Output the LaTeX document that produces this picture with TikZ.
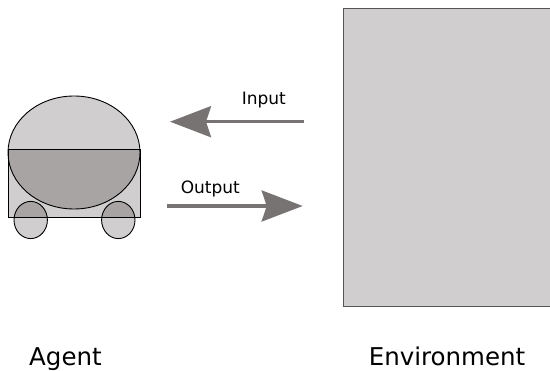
\documentclass[tikz,border=0pt]{standalone}
\usepackage{fontspec}
\setmainfont{DejaVu Sans}
\usetikzlibrary{arrows.meta}
\definecolor{bodylight}{HTML}{D0CECE}
\definecolor{bodydark}{HTML}{A8A4A4}
\definecolor{flowgray}{HTML}{787373}
\definecolor{edgegray}{HTML}{555555}
\tikzset{
  outline/.style={draw=black, line width=0.9pt},
  flowarrow/.style={draw=flowgray, line width=3.3pt,
    -{Stealth[length=41pt, width=31pt, inset=5pt, fill=flowgray]}},
  biglabel/.style={font=\fontsize{24.5}{29}\selectfont, anchor=base, inner sep=0pt},
  smalllabel/.style={font=\fontsize{17}{20}\selectfont, anchor=base, inner sep=0pt},
}
\begin{document}
\begin{tikzpicture}[x=1pt, y=-1pt]
  \useasboundingbox (0,0) rectangle (550,371);

  % environment block (runs off the right edge)
  \node[draw=edgegray, line width=0.9pt, fill=bodylight, minimum width=208.3pt,
        minimum height=298pt, inner sep=0pt, anchor=north west]
        (env) at (342.7,8) {};

  % agent: dome, body and wheels
  \coordinate (dome) at (74,152.5);
  \coordinate (wheelL) at (30.7,220);
  \coordinate (wheelR) at (118.3,220);
  \fill[bodylight] (dome) ellipse [x radius=66, y radius=56.5];
  \fill[bodylight] (8.3,149.3) rectangle (140,217.3);
  \fill[bodylight] (wheelL) ellipse [x radius=16.7, y radius=18.6];
  \fill[bodylight] (wheelR) ellipse [x radius=16.7, y radius=18.6];
  \begin{scope}
    \clip (8.3,149.3) rectangle (140,217.3);
    \fill[bodydark] (dome) ellipse [x radius=66, y radius=56.5];
    \fill[bodydark] (wheelL) ellipse [x radius=16.7, y radius=18.6];
    \fill[bodydark] (wheelR) ellipse [x radius=16.7, y radius=18.6];
  \end{scope}
  \draw[outline] (dome) ellipse [x radius=66, y radius=56.5];
  \draw[outline] (wheelL) ellipse [x radius=16.7, y radius=18.6];
  \draw[outline] (wheelR) ellipse [x radius=16.7, y radius=18.6];
  \draw[outline] (8.3,149.3) rectangle (140,217.3);

  % signal flow between agent and environment
  \coordinate (inStart) at (304,121.7);
  \coordinate (inEnd) at (170,121.7);
  \coordinate (outStart) at (167,206);
  \coordinate (outEnd) at (302.7,206);
  \draw[flowarrow] (inStart) -- (inEnd);
  \draw[flowarrow] (outStart) -- (outEnd);

  % labels
  \node[smalllabel] (inLabel) at (263.8,105) {Input};
  \node[smalllabel] (outLabel) at (210.3,193.3) {Output};
  \node[biglabel] (agentLabel) at (65.5,366) {Agent};
  \node[biglabel] (envLabel) at (447,366) {Environment};
\end{tikzpicture}
\end{document}
